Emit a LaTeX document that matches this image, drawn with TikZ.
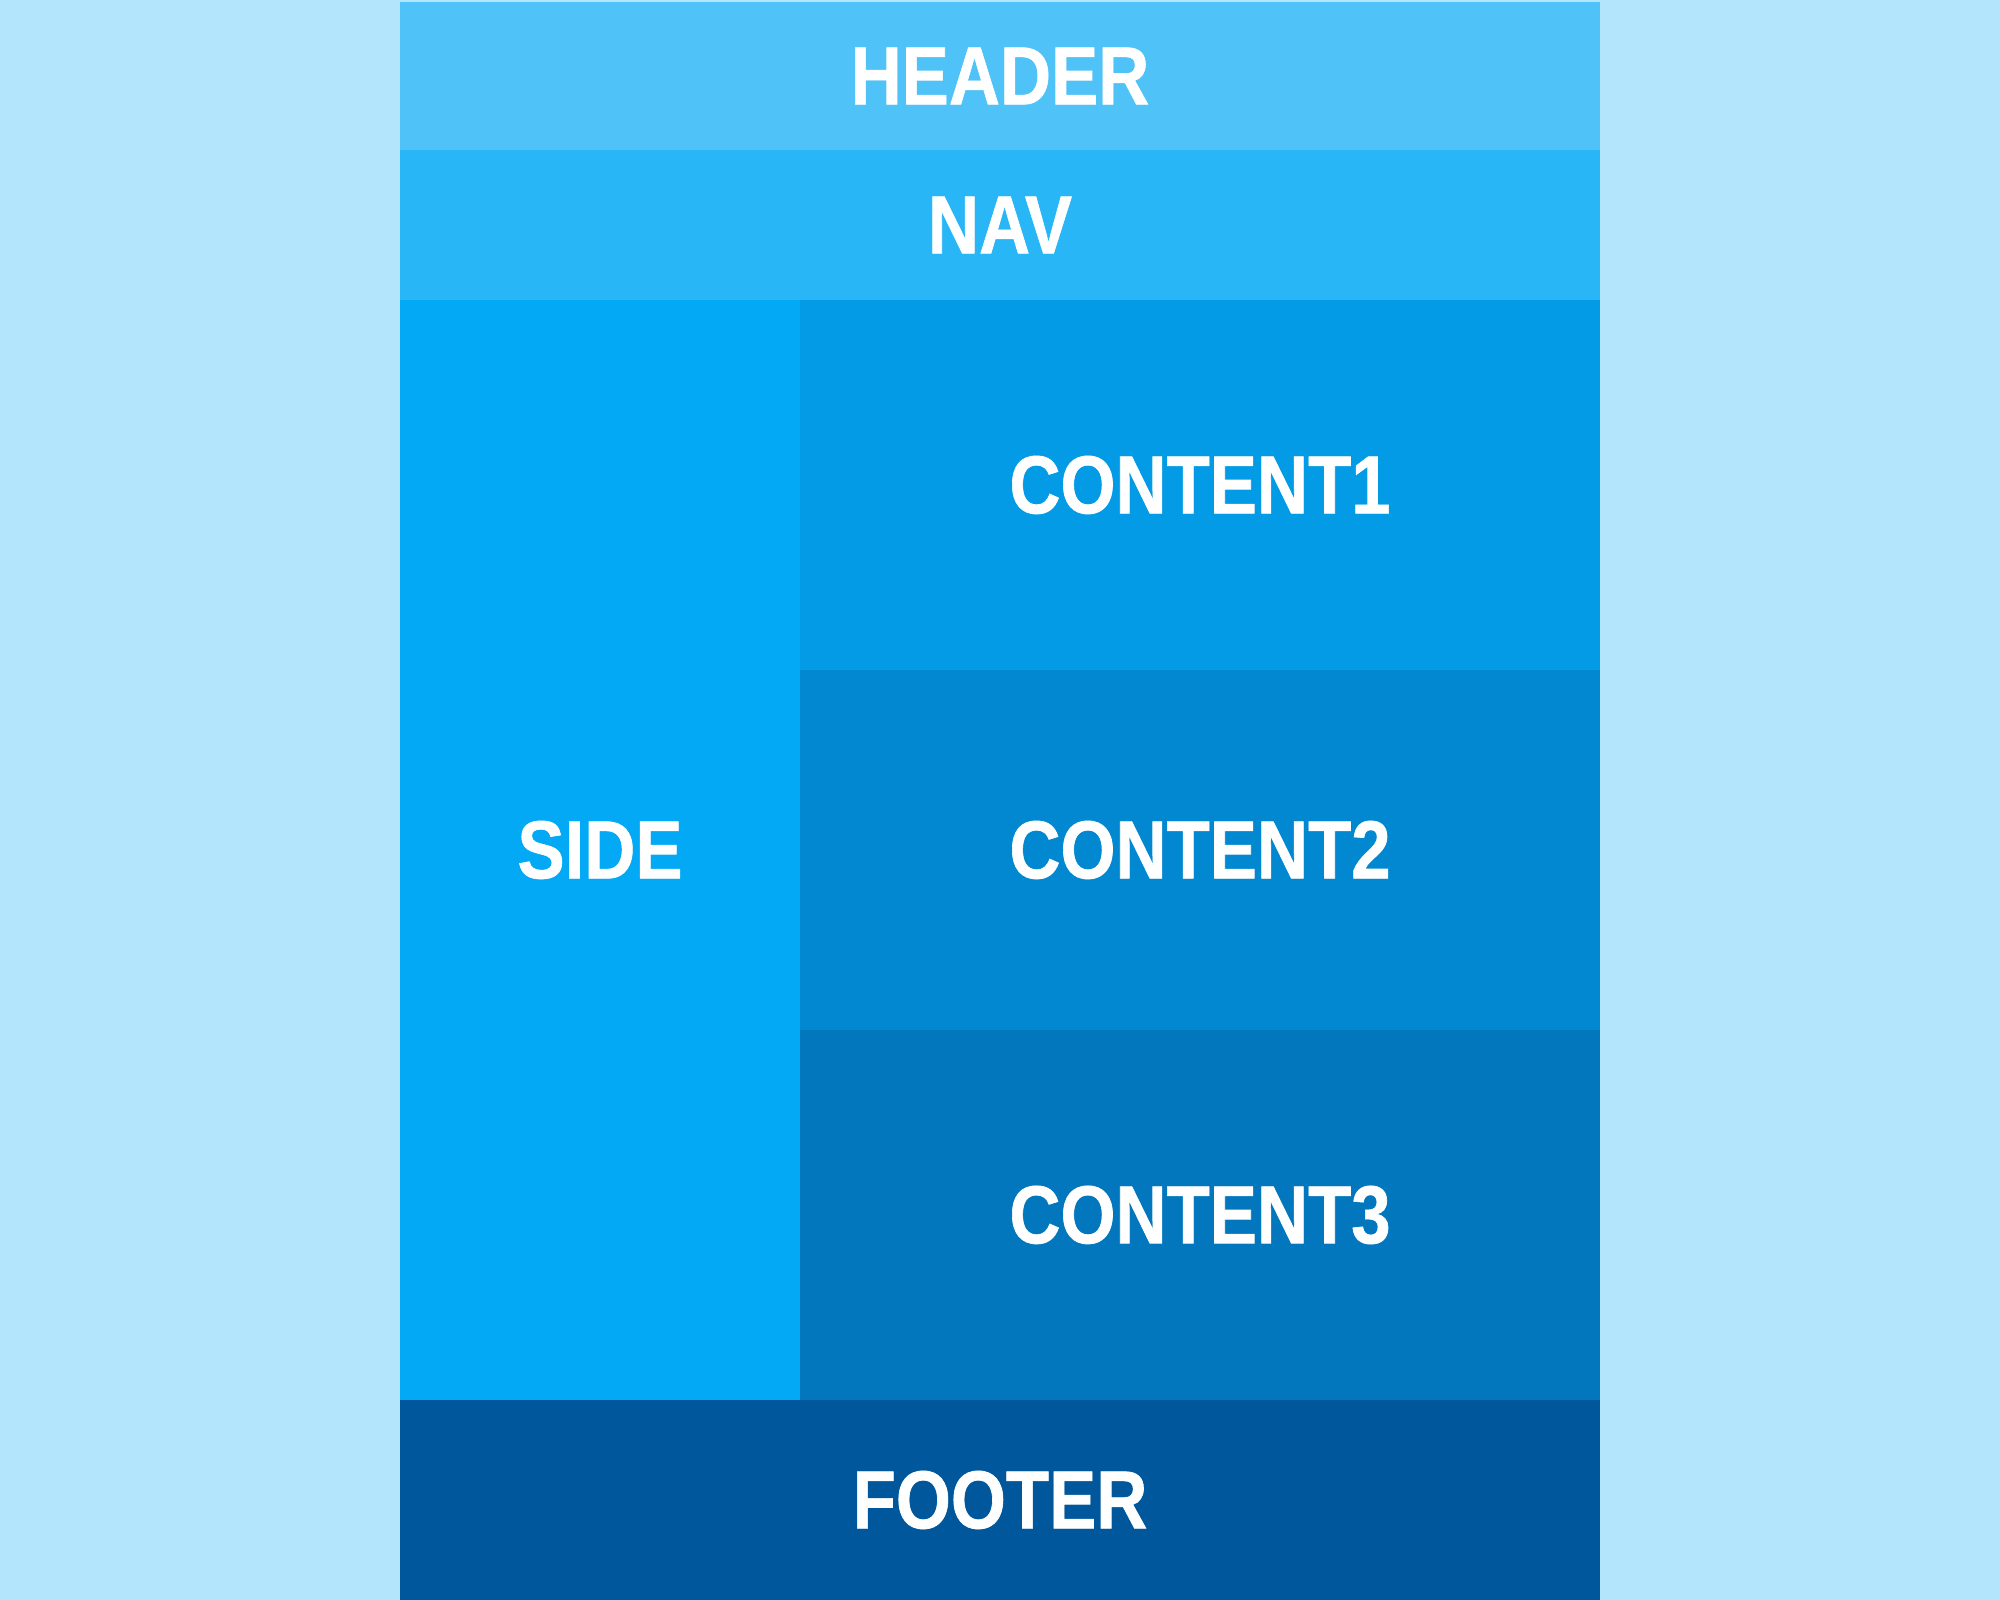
\documentclass[tikz,border=0pt]{standalone}
\usepackage{fontspec}
\newfontfamily\areafont{Liberation Sans}[FakeStretch=0.86, FakeBold=0.8]
\usepackage{xcolor}
\definecolor{lbback}{HTML}{B3E5FC}
\definecolor{lbheader}{HTML}{4FC3F7}
\definecolor{lbnav}{HTML}{29B6F6}
\definecolor{lbside}{HTML}{03A9F4}
\definecolor{lbcontenta}{HTML}{039BE5}
\definecolor{lbcontentb}{HTML}{0288D1}
\definecolor{lbcontentc}{HTML}{0277BD}
\definecolor{lbfooter}{HTML}{01579B}
\usetikzlibrary{positioning}

\begin{document}
\begin{tikzpicture}[
  area/.style={rectangle, inner sep=0pt, outer sep=0pt,
               text=white, align=center,
               font=\areafont\bfseries\fontsize{23.4pt}{25pt}\selectfont},
  wide/.style={area, minimum width=12cm},
  main/.style={area, minimum width=8cm}
]
  \fill[lbback] (0,0) rectangle (20,16);
  \useasboundingbox (0,0) rectangle (20,16);

  \node[wide, fill=lbheader, minimum height=1.48cm] (header) at (10,15.24) {HEADER};
  \node[wide, fill=lbnav, minimum height=1.5cm,
        below=0pt of header] (nav) {NAV};

  \node[area, fill=lbside, minimum width=4cm, minimum height=11cm,
        below right=0pt and 0pt of nav.south west] (side) {SIDE};

  \node[main, fill=lbcontenta, minimum height=3.7cm,
        below right=0pt and 0pt of side.north east] (content1) {CONTENT1};
  \node[main, fill=lbcontentb, minimum height=3.6cm,
        below=0pt of content1] (content2) {CONTENT2};
  \node[main, fill=lbcontentc, minimum height=3.7cm,
        below=0pt of content2] (content3) {CONTENT3};

  \node[wide, fill=lbfooter, minimum height=2cm,
        below right=0pt and 0pt of side.south west] (footer) {FOOTER};
\end{tikzpicture}
\end{document}
